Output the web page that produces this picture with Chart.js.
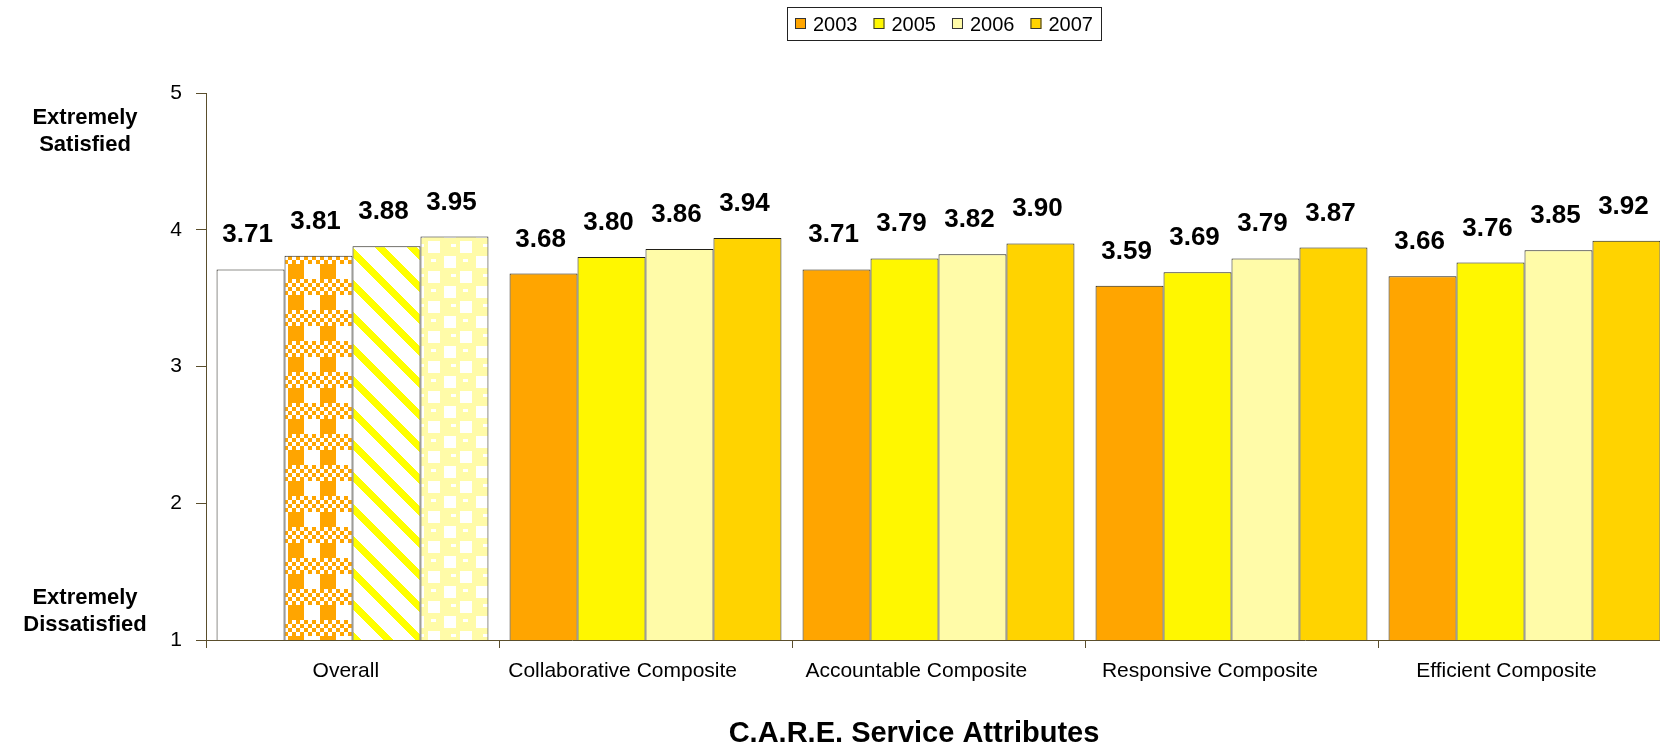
<!DOCTYPE html>
<html>
<head>
<meta charset="utf-8">
<title>C.A.R.E. Service Attributes</title>
<script src="https://cdn.jsdelivr.net/npm/chart.js@4.4.1/dist/chart.umd.min.js"></script>
<style>
    html, body { margin: 0; padding: 0; background: #fff; overflow: hidden; width: 1660px; height: 750px; }
    #careChart { display: block; }
</style>
</head>
<body>
<canvas id="careChart" width="1680" height="750"></canvas>
<script>
let categories = ['Overall', 'Collaborative Composite', 'Accountable Composite', 'Responsive Composite', 'Efficient Composite'];
let years = ['2003', '2005', '2006', '2007'];
let scores2003 = [3.71, 3.68, 3.71, 3.59, 3.66];
let scores2005 = [3.81, 3.80, 3.79, 3.69, 3.76];
let scores2006 = [3.88, 3.86, 3.82, 3.79, 3.85];
let scores2007 = [3.95, 3.94, 3.90, 3.87, 3.92];
let yTicks = [1, 2, 3, 4, 5];

let orange = '#FFA500';
let yellow = '#FFF700';
let paleYellow = '#FFFBA8';
let gold = '#FFD300';
let axisColor = '#5a4e2c';
let barBorder = '#222018';
let fontFamily = '"Liberation Sans", Arial, sans-serif';

// little tiles used for the "Overall" bars
function tile(w, h, paint) {
    const c = document.createElement('canvas');
    c.width = w;
    c.height = h;
    const ctx = c.getContext('2d');
    paint(ctx);
    return ctx.createPattern(c, 'repeat');
}

function makePatterns() {
    let gingham = tile(32, 31, ctx => {
        ctx.fillStyle = '#fff';
        ctx.fillRect(0, 0, 32, 31);
        ctx.fillStyle = orange;
        ctx.fillRect(0, 16, 16, 15);
        // checker band
        for (let i = 0; i < 8; i++) {
            for (let j = 0; j < 4; j++) {
                if ((i + j) % 2 === 0) ctx.fillRect(i * 4, j * 4, 4, 4);
            }
        }
    });

    let stripes = tile(32, 32, ctx => {
        ctx.fillStyle = '#fff';
        ctx.fillRect(0, 0, 32, 32);
        ctx.fillStyle = '#FFFF00';
        for (let y = 0; y < 32; y++) {
            for (let x = 0; x < 32; x++) {
                if (((x - y) % 32 + 32) % 32 < 10) ctx.fillRect(x, y, 1, 1);
            }
        }
    });

    let blocks = tile(32, 30, ctx => {
        ctx.fillStyle = paleYellow;
        ctx.fillRect(0, 0, 32, 30);
        ctx.fillStyle = '#fff';
        ctx.fillRect(12, 1, 12, 12);
        ctx.fillRect(28, 16, 4, 12);
        ctx.fillRect(0, 16, 8, 12);
        // small notches in the yellow cells
        ctx.fillRect(3, 4, 5, 3);
        ctx.fillRect(15, 19, 5, 3);
    });

    return { gingham, stripes, blocks };
}

let patterns = makePatterns();

// first bar of each series gets the patterned look
function seriesFill(overallFill, color) {
    return categories.map((c, i) => i === 0 ? overallFill : color);
}

// value labels above every bar
const valueLabels = {
    id: 'valueLabels',
    afterDatasetsDraw(chart) {
        const ctx = chart.ctx;
        ctx.save();
        ctx.font = 'bold 26px ' + fontFamily;
        ctx.fillStyle = '#000';
        ctx.textAlign = 'center';
        ctx.textBaseline = 'alphabetic';
        chart.data.datasets.forEach((ds, di) => {
            chart.getDatasetMeta(di).data.forEach((bar, i) => {
                ctx.fillText(ds.data[i].toFixed(2), bar.x - 3, bar.y - 27);
            });
        });
        ctx.restore();
    }
};

// boxed legend, category names, side captions and the axis title
const extras = {
    id: 'extras',
    afterDraw(chart) {
        const ctx = chart.ctx;
        const xScale = chart.scales.x;
        ctx.save();

        ctx.strokeStyle = '#222';
        ctx.lineWidth = 1;
        ctx.strokeRect(787.5, 7.5, 314, 33);
        ctx.font = '20px ' + fontFamily;
        ctx.textBaseline = 'middle';
        ctx.textAlign = 'left';
        let swatches = [orange, yellow, paleYellow, gold];
        let x = 795;
        years.forEach((yr, i) => {
            ctx.fillStyle = swatches[i];
            ctx.fillRect(x, 18, 11, 11);
            ctx.strokeStyle = '#333';
            ctx.strokeRect(x + 0.5, 18.5, 10, 10);
            ctx.fillStyle = '#000';
            ctx.fillText(yr, x + 18, 25);
            x += 18 + ctx.measureText(yr).width + 16;
        });

        // category names sit a little left of centre, like the original layout
        ctx.font = '21px ' + fontFamily;
        categories.forEach((name, i) => {
            let w = ctx.measureText(name).width;
            let cx = xScale.getPixelForTick(i);
            ctx.fillText(name, cx - w * 0.6, xScale.top + 31);
        });

        ctx.font = 'bold 22px ' + fontFamily;
        ctx.textAlign = 'center';
        ctx.fillText('Extremely', 85, 118);
        ctx.fillText('Satisfied', 85, 145);
        ctx.fillText('Extremely', 85, 598);
        ctx.fillText('Dissatisfied', 85, 625);

        ctx.font = 'bold 29px ' + fontFamily;
        ctx.fillText('C.A.R.E. Service Attributes', 914, 734);
        ctx.restore();
    }
};

const chart = new Chart(document.getElementById('careChart'), {
    type: 'bar',
    data: {
        labels: categories,
        datasets: [{
            label: years[0],
            data: scores2003,
            backgroundColor: seriesFill('#ffffff', orange)
        }, {
            label: years[1],
            data: scores2005,
            backgroundColor: seriesFill(patterns.gingham, yellow)
        }, {
            label: years[2],
            data: scores2006,
            backgroundColor: seriesFill(patterns.stripes, paleYellow)
        }, {
            label: years[3],
            data: scores2007,
            backgroundColor: seriesFill(patterns.blocks, gold)
        }]
    },
    options: {
        responsive: false,
        animation: false,
        layout: {
            padding: { top: 93, right: 9, bottom: 0, left: 0 }
        },
        datasets: {
            bar: {
                categoryPercentage: 0.928,
                barPercentage: 1,
                borderWidth: 1,
                borderColor: barBorder
            }
        },
        plugins: {
            legend: { display: false },
            tooltip: { enabled: false }
        },
        scales: {
            x: {
                afterFit(scale) { scale.height = 110; },
                grid: {
                    offset: true,
                    drawOnChartArea: false,
                    tickLength: 8,
                    color: axisColor
                },
                border: { color: axisColor },
                ticks: { display: false }
            },
            y: {
                min: 1,
                max: 5,
                afterFit(scale) { scale.width = 206; },
                afterBuildTicks(scale) {
                    scale.ticks = yTicks.map(v => ({ value: v }));
                },
                grid: {
                    drawOnChartArea: false,
                    tickLength: 10,
                    color: axisColor
                },
                border: { color: axisColor },
                ticks: {
                    color: '#000',
                    padding: 14,
                    font: { family: fontFamily, size: 21 }
                }
            }
        }
    },
    plugins: [valueLabels, extras]
});
</script>
</body>
</html>
